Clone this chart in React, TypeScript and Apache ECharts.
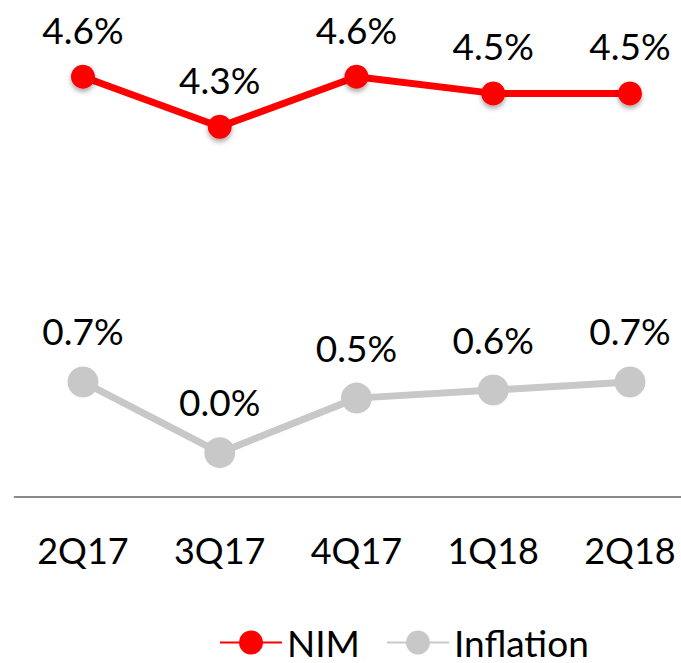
import React, { useEffect, useRef } from "react";
import * as echarts from "echarts";

const categories = ["2Q17", "3Q17", "4Q17", "1Q18", "2Q18"];
const nimValues = [4.6, 4.3, 4.6, 4.5, 4.5];
const inflationValues = [0.7, 0.0, 0.54, 0.62, 0.7];
const seriesNames = ["NIM", "Inflation"];

const FONT = "Lato, 'Open Sans', sans-serif";

export default function App() {
  const ref = useRef<HTMLDivElement>(null);
  useEffect(() => {
    if (!ref.current) return;
    const chart = echarts.init(ref.current, undefined, { renderer: "svg" });
    const labelCfg = {
      show: true,
      position: "top",
      distance: 17,
      color: "#000",
      fontSize: 37,
      lineHeight: 37,
      fontFamily: FONT,
      formatter: (p: any) => Number(p.value).toFixed(1) + "%",
    };
    chart.setOption({
      animation: false,
      backgroundColor: "#fff",
      grid: { left: 14.6, right: 21.65, top: 0, bottom: 166, containLabel: false },
      legend: {
        left: 214,
        top: 619,
        itemWidth: 62,
        itemHeight: 30,
        itemGap: 26,
        textStyle: { fontSize: 37, lineHeight: 37, fontFamily: FONT, color: "#000" },
        data: seriesNames,
      },
      xAxis: {
        type: "category",
        data: categories,
        boundaryGap: true,
        axisLine: { show: true, onZero: false, lineStyle: { color: "#898989", width: 2 } },
        axisTick: { show: false },
        axisLabel: { margin: 35, fontSize: 36, lineHeight: 36, fontFamily: FONT, color: "#000" },
        splitLine: { show: false },
      },
      yAxis: [
        { type: "value", min: 2.08, max: 5.06, show: false, splitLine: { show: false } },
        { type: "value", min: -0.439, max: 4.482, show: false, splitLine: { show: false } },
      ],
      series: [
        {
          name: seriesNames[0],
          type: "line",
          yAxisIndex: 0,
          data: nimValues,
          symbol: "circle",
          symbolSize: 24,
          lineStyle: { color: "#FF0000", width: 7 },
          itemStyle: {
            color: "#FF0000",
            shadowBlur: 5,
            shadowColor: "rgba(0,0,0,0.35)",
            shadowOffsetY: 3,
          },
          label: labelCfg,
        },
        {
          name: seriesNames[1],
          type: "line",
          yAxisIndex: 1,
          data: inflationValues,
          symbol: "circle",
          symbolSize: 31,
          lineStyle: { color: "#C8C8C8", width: 7 },
          itemStyle: { color: "#C8C8C8" },
          label: labelCfg,
        },
      ],
    });
    return () => chart.dispose();
  }, []);
  return (
    <div
      style={{ position: "absolute", left: 0, top: 0, width: 681, height: 663, overflow: "hidden" }}
    >
      <div ref={ref} style={{ width: 720, height: 663 }} />
    </div>
  );
}
